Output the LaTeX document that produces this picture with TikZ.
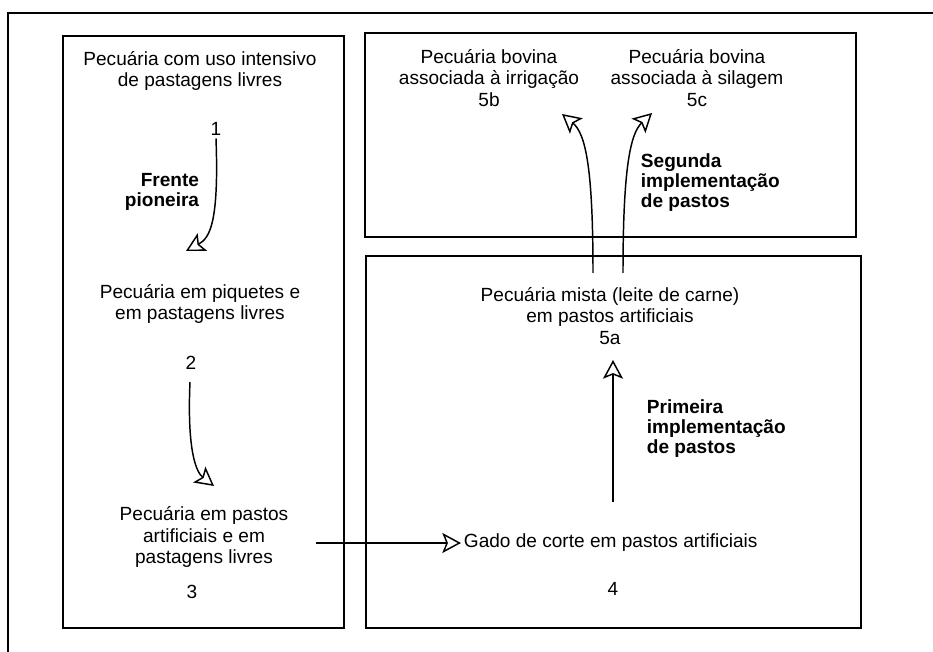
\documentclass[tikz,border=0pt]{standalone}
\usepackage{fontspec}
\setmainfont{Liberation Sans}
\usetikzlibrary{arrows.meta}

\tikzset{
  box/.style={line width=1.3pt},
  txt/.style={inner sep=2pt, align=center, font=\fontsize{14.3pt}{16.2pt}\selectfont},
  bold/.style={txt, font=\fontsize{14.3pt}{15pt}\selectfont\bfseries},
  flow/.style={line width=1.1pt, -{Stealth[open, length=14pt, width=15pt, inset=3pt, line width=1.1pt]}}
}

\begin{document}
\begin{tikzpicture}[x=0.75pt,y=0.75pt,yscale=-1,xscale=1]
\useasboundingbox (0,0) rectangle (933,652);
%Shape: Frame
\draw [box] (8,652) -- (8,13) -- (933,13) ;
%Shape: Rectangle [left]
\draw [box] (63,36) -- (344,36) -- (344,628) -- (63,628) -- cycle ;
%Shape: Rectangle [top right]
\draw [box] (365,33) -- (856,33) -- (856,237) -- (365,237) -- cycle ;
%Shape: Rectangle [bottom right]
\draw [box] (366,256) -- (861,256) -- (861,628) -- (366,628) -- cycle ;

% Text Node
\node [txt] (intens) at (200,71) {Pecuária com uso intensivo\\de pastagens livres};
% Text Node
\node [txt] (one) at (216,129) {1};
% Text Node
\node [bold, align=right, anchor=east] (front) at (202,192) {Frente\\pioneira};
% Text Node
\node [txt] (piquet) at (200,304) {Pecuária em piquetes e\\em pastagens livres};
% Text Node
\node [txt] (two) at (191,363) {2};
% Text Node
\node [txt] (artif) at (204,537) {Pecuária em pastos\\artificiais e em\\pastagens livres};
% Text Node
\node [txt] (three) at (192,592) {3};
% Text Node
\node [txt, anchor=west] (corte) at (461,543) {Gado de corte em pastos artificiais};
% Text Node
\node [txt] (four) at (613,589) {4};
% Text Node
\node [txt] (mista) at (610,316) {Pecuária mista (leite de carne)\\em pastos artificiais\\5a};
% Text Node
\node [bold, align=left, anchor=west] (first) at (644,429) {Primeira\\implementação\\de pastos};
% Text Node
\node [txt] (irrig) at (489,78) {Pecuária bovina\\associada à irrigação\\5b};
% Text Node
\node [txt] (silag) at (697,78) {Pecuária bovina\\associada à silagem\\5c};
% Text Node
\node [bold, align=left, anchor=west] (second) at (638,183) {Segunda\\implementação\\de pastos};

% Arrow ends
\coordinate (h1) at (186,251);
\coordinate (s2) at (190,382);
\coordinate (h2) at (214,486);
\coordinate (s3) at (316,543);
\coordinate (s4) at (613,502);
\coordinate (h4) at (613,360);
\coordinate (sb) at (593,273);
\coordinate (hb) at (562,114);
\coordinate (sc) at (623,273);
\coordinate (hc) at (652,113);

%Curve Lines
\draw [flow] (one.south) .. controls (219,222) and (210,238) .. (h1) ;
\draw [flow] (s2) .. controls (187,450) and (196,472) .. (h2) ;
%Straight Lines
\draw [flow] (s3) -- (corte.west) ;
\draw [flow] (s4) -- (h4) ;
%Curve Lines
\draw [flow] (sb) .. controls (593,170) and (586,134) .. (hb) ;
\draw [flow] (sc) .. controls (623,170) and (630,134) .. (hc) ;
\end{tikzpicture}
\end{document}
